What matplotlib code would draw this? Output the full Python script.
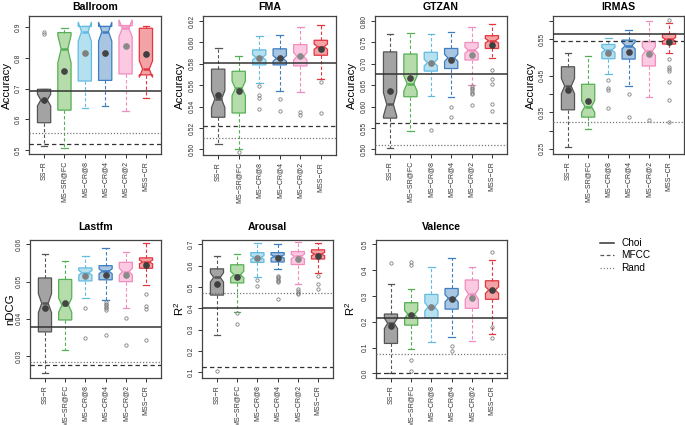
import matplotlib
matplotlib.use('Agg')
import matplotlib.pyplot as plt
from matplotlib.lines import Line2D
import numpy as np

plt.rcParams['font.family'] = ['Liberation Sans', 'DejaVu Sans']
plt.rcParams['mathtext.fontset'] = 'custom'
plt.rcParams['mathtext.rm'] = 'Liberation Sans'

methods = ['SS\u2212R', 'MS\u2212SR@FC', 'MS\u2212CR@8', 'MS\u2212CR@4', 'MS\u2212CR@2', 'MSS\u2212CR']
fills = ['#a3a3a3', '#b5dcaa', '#b5e0f0', '#a8c5e2', '#fbc9e1', '#f3a2a5']
edges = ['#555555', '#55b055', '#62bce2', '#3d7ec0', '#f08cbe', '#e3363f']
mean_cols = ['#3f3f3f', '#454545', '#808080', '#454545', '#8a8a8a', '#3f3f3f']

# --- Ballroom ---
ballroom_lo = [0.513, 0.505, 0.636, 0.643, 0.628, 0.668]
ballroom_q1 = [0.589, 0.630, 0.725, 0.727, 0.748, 0.745]
ballroom_med = [0.663, 0.829, 0.886, 0.886, 0.897, 0.764]
ballroom_q3 = [0.698, 0.883, 0.903, 0.903, 0.905, 0.897]
ballroom_hi = [0.700, 0.897, 0.905, 0.905, 0.908, 0.905]
ballroom_mean = [0.663, 0.758, 0.815, 0.815, 0.840, 0.812]
ballroom_out = [[0.886, 0.879], [], [], [], [], []]
ballroom_ref = [0.694, 0.521, 0.557]  # Choi, MFCC, Rand

# --- FMA ---
fma_lo = [0.505, 0.500, 0.562, 0.555, 0.554, 0.566]
fma_q1 = [0.530, 0.534, 0.579, 0.579, 0.578, 0.588]
fma_med = [0.547, 0.557, 0.586, 0.585, 0.587, 0.596]
fma_q3 = [0.575, 0.573, 0.593, 0.594, 0.598, 0.602]
fma_hi = [0.595, 0.587, 0.606, 0.607, 0.614, 0.616]
fma_mean = [0.551, 0.555, 0.585, 0.585, 0.587, 0.594]
fma_out = [[], [0.4975], [0.559, 0.551, 0.548, 0.538], [0.547, 0.536],
           [0.535, 0.532], [0.563, 0.534]]
fma_ref = [0.581, 0.522, 0.511]

# --- GTZAN ---
gtzan_lo = [0.503, 0.543, 0.625, 0.623, 0.651, 0.713]
gtzan_q1 = [0.573, 0.623, 0.683, 0.689, 0.709, 0.736]
gtzan_med = [0.605, 0.654, 0.703, 0.714, 0.732, 0.754]
gtzan_q3 = [0.728, 0.723, 0.727, 0.736, 0.750, 0.766]
gtzan_hi = [0.769, 0.773, 0.770, 0.775, 0.787, 0.793]
gtzan_mean = [0.637, 0.667, 0.703, 0.710, 0.720, 0.745]
gtzan_out = [[], [], [0.545], [0.600, 0.576],
             [0.647, 0.643, 0.640, 0.636, 0.632, 0.629, 0.604],
             [0.686, 0.664, 0.654, 0.605, 0.590]]
gtzan_ref = [0.677, 0.562, 0.509]

# --- IRMAS ---
irmas_lo = [0.254, 0.305, 0.454, 0.422, 0.393, 0.514]
irmas_q1 = [0.357, 0.337, 0.497, 0.496, 0.477, 0.537]
irmas_med = [0.422, 0.366, 0.521, 0.533, 0.518, 0.550]
irmas_q3 = [0.475, 0.427, 0.536, 0.548, 0.544, 0.565]
irmas_hi = [0.512, 0.504, 0.555, 0.577, 0.599, 0.594]
irmas_mean = [0.411, 0.382, 0.514, 0.516, 0.509, 0.542]
irmas_out = [[], [], [0.440, 0.416, 0.410, 0.363], [0.400, 0.336], [0.330],
             [0.603, 0.495, 0.475, 0.470, 0.463, 0.433, 0.384, 0.325]]
irmas_ref = [0.566, 0.546, 0.323]

# --- Lastfm ---
lastfm_lo = [0.0255, 0.0316, 0.0455, 0.0451, 0.0428, 0.0491]
lastfm_q1 = [0.0365, 0.0397, 0.0502, 0.0505, 0.0500, 0.0536]
lastfm_med = [0.0442, 0.0437, 0.0524, 0.0528, 0.0527, 0.0553]
lastfm_q3 = [0.0510, 0.0506, 0.0537, 0.0543, 0.0552, 0.0564]
lastfm_hi = [0.0574, 0.0555, 0.0569, 0.0591, 0.0580, 0.0603]
lastfm_mean = [0.0430, 0.0443, 0.0515, 0.0518, 0.0518, 0.0546]
lastfm_out = [[], [], [0.0428, 0.0348],
              [0.0445, 0.0440, 0.0436, 0.0432, 0.0428, 0.0424, 0.0356],
              [0.0401, 0.0331], [0.0468, 0.0434, 0.0427, 0.0343]]
lastfm_ref = [0.0377, 0.0276, 0.0283]

# --- Arousal ---
arousal_lo = [0.274, 0.385, 0.546, 0.582, 0.512, 0.566]
arousal_q1 = [0.462, 0.519, 0.615, 0.617, 0.605, 0.631]
arousal_med = [0.545, 0.558, 0.638, 0.643, 0.643, 0.654]
arousal_q3 = [0.585, 0.604, 0.661, 0.661, 0.666, 0.674]
arousal_hi = [0.646, 0.654, 0.705, 0.700, 0.712, 0.705]
arousal_mean = [0.513, 0.549, 0.635, 0.635, 0.631, 0.646]
arousal_out = [[0.105], [0.378, 0.328], [0.531, 0.505],
               [0.551, 0.545, 0.540, 0.534, 0.528, 0.521, 0.443],
               [0.490, 0.480, 0.472, 0.466], [0.550, 0.512, 0.492]]
arousal_ref = [0.4015, 0.123, 0.471]

# --- Valence ---
valence_lo = [0.0, 0.093, 0.121, 0.142, 0.124, 0.152]
valence_q1 = [0.116, 0.187, 0.216, 0.249, 0.252, 0.287]
valence_med = [0.194, 0.229, 0.258, 0.291, 0.307, 0.323]
valence_q3 = [0.230, 0.274, 0.306, 0.329, 0.362, 0.359]
valence_hi = [0.346, 0.328, 0.413, 0.448, 0.411, 0.440]
valence_mean = [0.183, 0.226, 0.258, 0.288, 0.294, 0.323]
valence_out = [[0.426], [0.430, 0.420, 0.052, 0.009], [], [0.107, 0.088], [],
               [0.472, 0.181, 0.138]]
valence_ref = [0.213, 0.0, 0.0736]

W, H = 685, 425


def px_axes(fig, left, top, width, height):
    return fig.add_axes([left / W, 1 - (top + height) / H, width / W, height / H])


def draw_panel(ax, title, ylabel, lo, q1, med, q3, hi, mean, out, ref, ylim, ticks, labels,
               width_px, label_off, title_pad):
    n_obs = 80  # notch half-width as in R: 1.58 * IQR / sqrt(n)
    stats = []
    for i in range(6):
        ci = 1.58 * (q3[i] - q1[i]) / np.sqrt(n_obs)
        stats.append(dict(whislo=lo[i], q1=q1[i], med=med[i], q3=q3[i], whishi=hi[i],
                          cilo=med[i] - ci, cihi=med[i] + ci, fliers=out[i]))
    bp = ax.bxp(stats, positions=range(1, 7), widths=0.65, shownotches=True,
                patch_artist=True, showfliers=True)
    for i in range(6):
        bp['boxes'][i].set_facecolor(fills[i])
        bp['boxes'][i].set_edgecolor(edges[i])
        bp['boxes'][i].set_linewidth(0.9)
        for k in (2 * i, 2 * i + 1):
            bp['whiskers'][k].set(color=edges[i], linestyle=(0, (3, 2)), linewidth=0.8)
            bp['caps'][k].set(color=edges[i], linewidth=0.9)
        bp['medians'][i].set(color=edges[i], linewidth=1.8)
        bp['fliers'][i].set(marker='o', markersize=2.4, markerfacecolor='none',
                            markeredgecolor='#808080', markeredgewidth=0.6)
        ax.plot(i + 1, mean[i], 'o', color=mean_cols[i], markersize=3.8, zorder=4)

    ax.axhline(ref[0], color='#333333', linewidth=1.1, zorder=3)
    ax.axhline(ref[1], color='#333333', linewidth=0.9, linestyle=(0, (3.5, 2.5)), zorder=3)
    ax.axhline(ref[2], color='#777777', linewidth=0.9, linestyle=(0, (1, 1.5)), zorder=3)

    ax.set_xlim(0.26, 6.74)
    ax.set_ylim(*ylim)
    ax.set_yticks(ticks)
    ax.set_yticklabels(labels, rotation=90, va='center', fontsize=4.9)
    ax.set_xticks(range(1, 7))
    ax.set_xticklabels(methods, rotation=90, fontsize=5.0)
    ax.tick_params(length=3, width=0.7, colors='#333333', pad=2)
    for s in ax.spines.values():
        s.set_color('#444444')
        s.set_linewidth(0.9)
    ax.set_title(title, fontsize=7.6, fontweight='bold', pad=title_pad)
    ax.set_ylabel(ylabel, fontsize=8.2)
    ax.yaxis.set_label_coords(-label_off / width_px, 0.5)


fig = plt.figure(figsize=(W / 100, H / 100), dpi=100)

ax = px_axes(fig, 29, 16, 132, 138)
draw_panel(ax, 'Ballroom', 'Accuracy', ballroom_lo, ballroom_q1, ballroom_med, ballroom_q3,
           ballroom_hi, ballroom_mean, ballroom_out, ballroom_ref, (0.487, 0.937),
           [0.5, 0.6, 0.7, 0.8, 0.9], ['0.5', '0.6', '0.7', '0.8', '0.9'], 132, 17, 4)

ax = px_axes(fig, 203, 16, 133, 139)
draw_panel(ax, 'FMA', 'Accuracy', fma_lo, fma_q1, fma_med, fma_q3, fma_hi, fma_mean,
           fma_out, fma_ref, (0.4947, 0.6247),
           [0.50, 0.52, 0.54, 0.56, 0.58, 0.60, 0.62],
           ['0.50', '0.52', '0.54', '0.56', '0.58', '0.60', '0.62'], 133, 18, 4)

ax = px_axes(fig, 375, 16, 132, 138)
draw_panel(ax, 'GTZAN', 'Accuracy', gtzan_lo, gtzan_q1, gtzan_med, gtzan_q3, gtzan_hi,
           gtzan_mean, gtzan_out, gtzan_ref, (0.489, 0.812),
           [0.50, 0.55, 0.60, 0.65, 0.70, 0.75, 0.80],
           ['0.50', '0.55', '0.60', '0.65', '0.70', '0.75', '0.80'], 132, 18, 4)

ax = px_axes(fig, 553, 16, 131, 138)
draw_panel(ax, 'IRMAS', 'Accuracy', irmas_lo, irmas_q1, irmas_med, irmas_q3, irmas_hi,
           irmas_mean, irmas_out, irmas_ref, (0.236, 0.614),
           [0.25, 0.30, 0.35, 0.40, 0.45, 0.50, 0.55, 0.60],
           ['0.25', '', '0.35', '', '0.45', '', '0.55', ''], 131, 17, 4)

ax = px_axes(fig, 30, 240, 131, 138)
draw_panel(ax, 'Lastfm', 'nDCG', lastfm_lo, lastfm_q1, lastfm_med, lastfm_q3, lastfm_hi,
           lastfm_mean, lastfm_out, lastfm_ref, (0.0241, 0.0612),
           [0.03, 0.04, 0.05, 0.06], ['0.03', '0.04', '0.05', '0.06'], 131, 14.5, 7)

ax = px_axes(fig, 202, 240, 131, 138)
draw_panel(ax, 'Arousal', r'$\mathregular{R^2}$', arousal_lo, arousal_q1, arousal_med,
           arousal_q3, arousal_hi, arousal_mean, arousal_out, arousal_ref, (0.0737, 0.72),
           [0.1, 0.2, 0.3, 0.4, 0.5, 0.6, 0.7],
           ['0.1', '0.2', '0.3', '0.4', '0.5', '0.6', '0.7'], 131, 16, 7)

ax = px_axes(fig, 376, 240, 131, 138)
draw_panel(ax, 'Valence', r'$\mathregular{R^2}$', valence_lo, valence_q1, valence_med,
           valence_q3, valence_hi, valence_mean, valence_out, valence_ref, (-0.018, 0.517),
           [0.0, 0.1, 0.2, 0.3, 0.4, 0.5],
           ['0.0', '0.1', '0.2', '0.3', '0.4', '0.5'], 131, 19, 7)

handles = [Line2D([], [], color='#333333', linewidth=1.1),
           Line2D([], [], color='#555555', linewidth=0.9, linestyle=(0, (3, 2))),
           Line2D([], [], color='#888888', linewidth=0.9, linestyle=(0, (1, 1.5)))]
fig.legend(handles, ['Choi', 'MFCC', 'Rand'], loc='upper left',
           bbox_to_anchor=(600 / W, 1 - 238 / H), frameon=False, fontsize=7.2,
           handlelength=1.4, handletextpad=0.7, labelspacing=0.25, borderaxespad=0,
           borderpad=0)

fig.savefig('out.png', dpi=100)
